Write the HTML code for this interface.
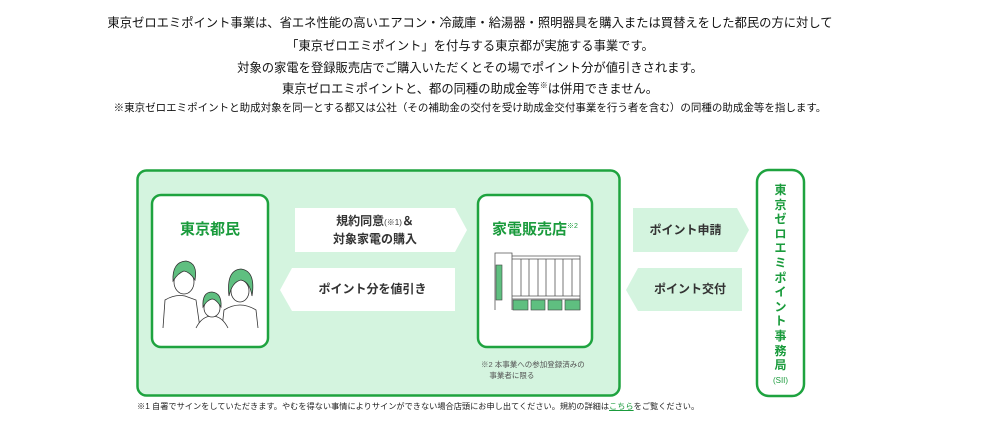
<!DOCTYPE html>
<html><head><meta charset="utf-8"><style>
body{margin:0;width:1000px;height:421px;background:#fff;position:relative;overflow:hidden;font-family:"Liberation Sans","Noto Sans CJK JP",sans-serif;color:#111}
.t{position:absolute;left:0;width:940px;text-align:center;font-size:12.3px;white-space:nowrap}
.a{position:absolute;font-weight:bold;font-size:12px;color:#333;text-align:center;line-height:17px}
</style></head><body>
<div class="t" style="top:13px">東京ゼロエミポイント事業は、省エネ性能の高いエアコン・冷蔵庫・給湯器・照明器具を購入または買替えをした都民の方に対して</div>
<div class="t" style="top:36px">「東京ゼロエミポイント」を付与する東京都が実施する事業です。</div>
<div class="t" style="top:58px">対象の家電を登録販売店でご購入いただくとその場でポイント分が値引きされます。</div>
<div class="t" style="top:79px">東京ゼロエミポイントと、都の同種の助成金等<sup style="font-size:8px">※</sup>は併用できません。</div>
<div class="t" style="top:100px;font-size:10.5px">※東京ゼロエミポイントと助成対象を同一とする都又は公社（その補助金の交付を受け助成金交付事業を行う者を含む）の同種の助成金等を指します。</div>
<svg width="1000" height="421" style="position:absolute;left:0;top:0">
<rect x="137.5" y="170.5" width="482" height="225" rx="9" fill="#d4f4df" stroke="#1ea33f" stroke-width="2.5"/>
<rect x="152" y="195" width="116" height="152" rx="9" fill="#fff" stroke="#1ea33f" stroke-width="2.5"/>
<rect x="478" y="195" width="114" height="152" rx="9" fill="#fff" stroke="#1ea33f" stroke-width="2.5"/>
<rect x="757" y="170" width="47" height="226" rx="12" fill="#fff" stroke="#1ea33f" stroke-width="2.5"/>
<polygon points="295,208 455,208 467,230 455,252 295,252" fill="#fff"/>
<polygon points="292,268 455,268 455,311 292,311 280,290" fill="#fff"/>
<polygon points="633,208 737,208 749,230 737,252 633,252" fill="#d4f4df"/>
<polygon points="638,268 742,268 742,311 638,311 626,290" fill="#d4f4df"/>
<g stroke="#333" stroke-width="0.8" fill="#fff">
<path d="M163,328 L165,300 Q175,294 185,296 L196,300 L200,328"/>
<path d="M222,328 L224,310 Q240,300 256,310 L258,328"/>
<path d="M196,328 Q202,316 212,316 Q222,316 228,328"/>
<ellipse cx="184" cy="282" rx="10" ry="12"/>
<ellipse cx="240" cy="291" rx="9" ry="11"/>
<ellipse cx="212" cy="308" rx="8" ry="9"/>
</g>
<g fill="#5fbf80" stroke="#333" stroke-width="0.8">
<path d="M173,281 Q172,262 186,261 Q198,263 195,280 Q190,272 184,271 Q178,273 173,281Z"/>
<path d="M229,296 Q226,270 241,269 Q256,271 252,296 Q250,282 241,280 Q232,282 229,296Z"/>
<path d="M203,307 Q202,292 212,292 Q222,293 221,307 Q216,299 212,299 Q207,300 203,307Z"/>
</g>
<g stroke="#555" stroke-width="0.8" fill="#fff">
<path d="M495,310 L495,253 L512,253 L512,256 L580,256 L580,310"/>
<line x1="512" y1="256" x2="512" y2="310"/>
<line x1="512" y1="259" x2="580" y2="259"/>
<line x1="521" y1="259" x2="521" y2="296"/><line x1="529" y1="259" x2="529" y2="296"/>
<line x1="538" y1="259" x2="538" y2="296"/><line x1="546" y1="259" x2="546" y2="296"/>
<line x1="555" y1="259" x2="555" y2="296"/><line x1="563" y1="259" x2="563" y2="296"/>
<line x1="572" y1="259" x2="572" y2="296"/>
<line x1="512" y1="296" x2="580" y2="296"/><line x1="512" y1="299" x2="580" y2="299"/>
</g>
<g fill="#5fbf80" stroke="#444" stroke-width="0.6">
<rect x="496" y="265" width="6" height="35"/>
<rect x="513" y="300" width="15" height="10"/><rect x="531" y="300" width="14" height="10"/>
<rect x="548" y="300" width="14" height="10"/><rect x="565" y="300" width="15" height="10"/>
</g>
</svg>
<div style="position:absolute;left:152px;top:218px;width:116px;text-align:center;color:#1a9b3c;font-weight:bold;font-size:15px">東京都民</div>
<div style="position:absolute;left:478px;top:218px;width:114px;text-align:center;color:#1a9b3c;font-weight:bold;font-size:15px">家電販売店<sup style="font-size:7px;font-weight:normal">※2</sup></div>
<div class="a" style="left:295px;top:213px;width:160px">規約同意<span style="font-size:8px;font-weight:normal">(※1)</span>＆<br>対象家電の購入</div>
<div class="a" style="left:290px;top:281px;width:165px">ポイント分を値引き</div>
<div class="a" style="left:633px;top:222px;width:105px">ポイント申請</div>
<div class="a" style="left:638px;top:281px;width:104px">ポイント交付</div>
<div style="position:absolute;left:757px;top:183px;width:47px;text-align:center;color:#1a9b3c;font-weight:bold;font-size:12px;line-height:14.6px">東<br>京<br>ゼ<br>ロ<br>エ<br>ミ<br>ポ<br>イ<br>ン<br>ト<br>事<br>務<br>局</div>
<div style="position:absolute;left:757px;top:376px;width:47px;text-align:center;color:#1a9b3c;font-size:8px">(SII)</div>
<div style="position:absolute;left:481px;top:359px;font-size:7.5px;color:#555;line-height:11px">※2 本事業への参加登録済みの<br>&nbsp;&nbsp;&nbsp;&nbsp;事業者に限る</div>
<div style="position:absolute;left:137px;top:400px;font-size:8.2px;color:#222;white-space:nowrap">※1 自署でサインをしていただきます。やむを得ない事情によりサインができない場合店頭にお申し出てください。規約の詳細は<span style="color:#1a9b3c;text-decoration:underline">こちら</span>をご覧ください。</div>
</body></html>
